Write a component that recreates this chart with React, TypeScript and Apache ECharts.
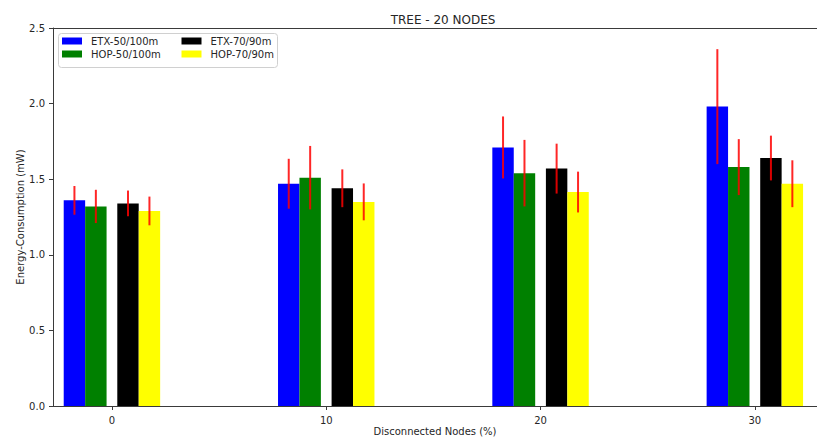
import React, { useEffect, useRef } from "react";
import * as echarts from "echarts";

// Percentage of disconnected nodes (x positions of the groups)
const groups = [0, 10, 20, 30];

// Series names, in drawing order
const seriesNames = ["ETX-50/100m", "HOP-50/100m", "ETX-70/90m", "HOP-70/90m"];

// Mean energy consumption (mW)
const etx50 = [1.36, 1.47, 1.71, 1.98];
const hop50 = [1.32, 1.51, 1.54, 1.58];
const etx70 = [1.34, 1.44, 1.57, 1.64];
const hop70 = [1.29, 1.35, 1.415, 1.47];

// Error (half-length of the error bar, mW)
const etx50Err = [0.095, 0.165, 0.205, 0.38];
const hop50Err = [0.11, 0.21, 0.22, 0.185];
const etx70Err = [0.085, 0.125, 0.165, 0.148];
const hop70Err = [0.095, 0.122, 0.135, 0.155];

const yTicks = [0, 0.5, 1.0, 1.5, 2.0, 2.5];

const colors = ["#0000ff", "#008000", "#000000", "#ffff00"];
const offsets = [-1.75, -0.75, 0.75, 1.75];
const BAR_W = 1;
const FONT = "DejaVu Sans";
const TEXT = "#262626";
const AXIS = "#3a3a3a";

export default function App() {
  const ref = useRef<HTMLDivElement>(null);

  useEffect(() => {
    if (!ref.current) return;
    const chart = echarts.init(ref.current, null, { renderer: "svg" });

    const values = [etx50, hop50, etx70, hop70];
    const errors = [etx50Err, hop50Err, etx70Err, hop70Err];

    const series = seriesNames.map((name, si) => ({
      name,
      type: "custom",
      xAxisIndex: 0,
      yAxisIndex: 0,
      itemStyle: { color: colors[si] },
      encode: { x: 0, y: 1 },
      data: groups.map((g, gi) => [g + offsets[si], values[si][gi], errors[si][gi]]),
      renderItem: (_params: any, api: any) => {
        const x = api.value(0);
        const v = api.value(1);
        const e = api.value(2);
        const tl = api.coord([x - BAR_W / 2, v]);
        const br = api.coord([x + BAR_W / 2, 0]);
        const lo = api.coord([x, v - e]);
        const hi = api.coord([x, v + e]);
        return {
          type: "group",
          children: [
            {
              type: "rect",
              shape: { x: tl[0], y: tl[1], width: br[0] - tl[0], height: br[1] - tl[1] },
              style: { fill: colors[si] },
            },
            {
              type: "line",
              z2: 10,
              shape: { x1: lo[0], y1: lo[1], x2: hi[0], y2: hi[1] },
              style: { stroke: "rgba(255,0,0,0.85)", lineWidth: 2 },
            },
          ],
        };
      },
    }));

    const legendCommon = {
      orient: "vertical",
      top: 36,
      itemWidth: 20,
      itemHeight: 7,
      itemGap: 3,
      icon: "rect",
      padding: 0,
      selectedMode: false,
      textStyle: { fontFamily: FONT, fontSize: 10, color: TEXT, padding: [0, 0, 0, 4] },
    };

    chart.setOption({
      animation: false,
      backgroundColor: "#ffffff",
      title: {
        text: "TREE - 20 NODES",
        left: 438,
        textAlign: "center",
        top: 9,
        textStyle: { fontFamily: FONT, fontSize: 12, fontWeight: "normal", color: TEXT },
      },
      graphic: [
        {
          type: "rect",
          z: 1,
          shape: { x: 58.5, y: 33.5, width: 219, height: 34, r: 3 },
          style: { fill: "rgba(255,255,255,0.8)", stroke: "#d0d0d0", lineWidth: 1 },
        },
      ],
      legend: [
        { ...legendCommon, left: 62, data: [seriesNames[0], seriesNames[1]] },
        { ...legendCommon, left: 181.5, data: [seriesNames[2], seriesNames[3]] },
      ],
      grid: { left: 53, right: 0, top: 28, bottom: 36, containLabel: false },
      xAxis: [
        {
          type: "value",
          min: -2.75,
          max: 32.9,
          name: "Disconnected Nodes (%)",
          nameLocation: "middle",
          nameGap: 20,
          nameMoveOverlap: false,
          nameTextStyle: { fontFamily: FONT, fontSize: 10, color: TEXT },
          axisLine: { show: true, onZero: false, lineStyle: { color: AXIS, width: 1 } },
          axisTick: { show: true, length: 4, customValues: groups, lineStyle: { color: AXIS } },
          axisLabel: {
            customValues: groups,
            margin: 9,
            fontFamily: FONT,
            fontSize: 10,
            color: TEXT,
          },
          splitLine: { show: false },
        },
        {
          type: "value",
          position: "top",
          min: -2.75,
          max: 32.9,
          axisLine: { show: true, onZero: false, lineStyle: { color: AXIS, width: 1 } },
          axisTick: { show: false },
          axisLabel: { show: false },
          splitLine: { show: false },
        },
      ],
      yAxis: {
        type: "value",
        min: 0,
        max: 2.5,
        interval: 0.5,
        name: "Energy-Consumption (mW)",
        nameLocation: "middle",
        nameGap: 28,
        nameMoveOverlap: false,
        nameTextStyle: { fontFamily: FONT, fontSize: 10, color: TEXT },
        axisLine: { show: true, onZero: false, lineStyle: { color: AXIS, width: 1 } },
        axisTick: { show: true, length: 4, lineStyle: { color: AXIS } },
        axisLabel: {
          margin: 8,
          fontFamily: FONT,
          fontSize: 10,
          color: TEXT,
          formatter: (v: number) => (yTicks.includes(v) ? v.toFixed(1) : ""),
        },
        splitLine: { show: false },
      },
      series,
    });

    return () => chart.dispose();
  }, []);

  return (
    <div
      ref={ref}
      style={{ position: "fixed", left: 0, top: 0, width: 817, height: 442, background: "#fff" }}
    />
  );
}
